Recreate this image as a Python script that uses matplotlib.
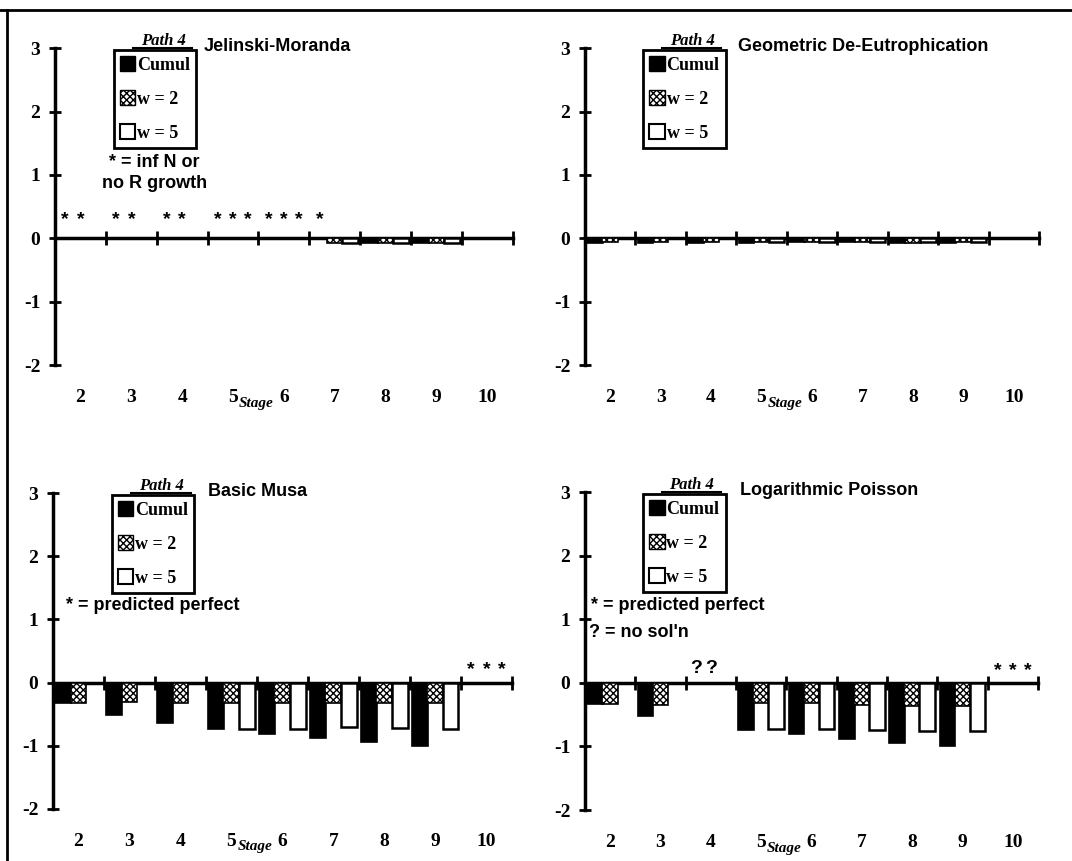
import numpy as np
import matplotlib
matplotlib.use('Agg')
import matplotlib.pyplot as plt
from matplotlib.patches import Patch
from matplotlib.lines import Line2D

nan = np.nan
stages = [2, 3, 4, 5, 6, 7, 8, 9, 10]
series_names = ['Cumul', 'w = 2', 'w = 5']

# Jelinski-Moranda
jm_cumul = [nan, nan, nan, nan, nan, nan, -0.07, -0.07, nan]
jm_w2 = [nan, nan, nan, nan, nan, -0.07, -0.07, -0.07, nan]
jm_w5 = [nan, nan, nan, nan, nan, -0.07, -0.07, -0.07, nan]
jm_star_cumul = [2, 3, 4, 5, 6, 7]
jm_star_w2 = [2, 3, 4, 5, 6]
jm_star_w5 = [5, 6]

# Geometric De-Eutrophication
geo_cumul = [-0.07, -0.07, -0.07, -0.07, -0.06, -0.06, -0.07, -0.07, nan]
geo_w2 = [-0.06, -0.06, -0.06, -0.06, -0.06, -0.06, -0.07, -0.06, nan]
geo_w5 = [nan, nan, nan, -0.06, -0.06, -0.06, -0.06, -0.06, nan]

# Basic Musa
musa_cumul = [-0.32, -0.51, -0.64, -0.73, -0.82, -0.88, -0.94, -1.0, nan]
musa_w2 = [-0.32, -0.31, -0.32, -0.32, -0.32, -0.32, -0.32, -0.33, nan]
musa_w5 = [nan, nan, nan, -0.73, -0.73, -0.70, -0.72, -0.74, nan]
musa_star = [10]

# Logarithmic Poisson
lp_cumul = [-0.33, -0.52, nan, -0.74, -0.81, -0.88, -0.95, -1.0, nan]
lp_w2 = [-0.33, -0.34, nan, -0.32, -0.32, -0.34, -0.36, -0.36, nan]
lp_w5 = [nan, nan, nan, -0.73, -0.73, -0.74, -0.75, -0.75, nan]
lp_star = [10]
lp_nosol = [4]

serif = 'Liberation Serif'
sans = 'Liberation Sans'
offsets = [-0.3, 0.0, 0.3]
bar_w = 0.31


def draw_bars(ax, cumul, w2, w5):
    x = np.array(stages, dtype=float)
    ax.bar(x + offsets[0], cumul, bar_w, color='black', edgecolor='black',
           linewidth=1.2, zorder=2)
    ax.bar(x + offsets[1], w2, bar_w, color='white', edgecolor='black',
           hatch='xxxxx', linewidth=1.2, zorder=2)
    ax.bar(x + offsets[2], w5, bar_w, color='white', edgecolor='black',
           linewidth=1.8, zorder=2)


def marks(ax, xs, slot, y, symbol='*'):
    for s in xs:
        ax.text(s + offsets[slot], y, symbol, ha='center', va='center',
                fontsize=14, fontfamily=sans, fontweight='bold', zorder=4)


def setup(ax, title, title_x):
    ax.set_xlim(1.5, 10.5)
    ax.set_ylim(-2, 3)
    for side in ['top', 'right', 'bottom']:
        ax.spines[side].set_visible(False)
    ax.spines['left'].set_linewidth(2.5)
    ax.set_yticks([-2, -1, 0, 1, 2, 3])
    ax.set_yticklabels(['-2', '-1', '0', '1', '2', '3'], fontfamily=serif,
                       fontweight='bold', fontsize=14)
    ax.tick_params(axis='y', direction='inout', length=9, width=2, pad=6)
    ax.set_xticks(stages)
    ax.set_xticklabels([str(s) for s in stages], fontfamily=serif,
                       fontweight='bold', fontsize=14)
    ax.tick_params(axis='x', length=0, pad=17)
    ax.text(5.12, -0.12, 'Stage', transform=ax.get_xaxis_transform(),
            fontfamily=serif, fontstyle='italic', fontweight='bold',
            fontsize=11, ha='left', va='center')

    # zero line carrying the stage-boundary ticks
    zx = ax.secondary_xaxis(0.4)
    zx.set_xticks(np.arange(1.5, 11.0, 1.0))
    zx.set_xticklabels([])
    zx.tick_params(direction='inout', length=10, width=2)
    zx.spines['bottom'].set_linewidth(2.5)
    zx.spines['bottom'].set_zorder(3)

    handles = [Patch(facecolor='black', edgecolor='black'),
               Patch(facecolor='white', edgecolor='black', hatch='xxxxx'),
               Patch(facecolor='white', edgecolor='black', linewidth=1.5)]
    leg = ax.legend(handles, series_names, loc='upper left',
                    bbox_to_anchor=(0.128, 0.995), frameon=True,
                    fancybox=False, framealpha=1, handlelength=0.85,
                    handleheight=0.9, handletextpad=0.1, labelspacing=0.9,
                    borderpad=0.35, borderaxespad=0,
                    prop={'family': serif, 'weight': 'bold', 'size': 13})
    leg.get_frame().set_edgecolor('black')
    leg.get_frame().set_linewidth(2)
    ax.text(0.236, 1.022, 'Path 4', transform=ax.transAxes, ha='center',
            va='center', fontfamily=serif, fontstyle='italic',
            fontweight='bold', fontsize=12)
    ax.add_line(Line2D([0.17, 0.30], [1.0, 1.0], transform=ax.transAxes,
                       color='black', linewidth=1.5, clip_on=False))
    ax.text(title_x, 1.005, title, transform=ax.transAxes, ha='left',
            va='center', fontfamily=sans, fontweight='bold', fontsize=13)


fig = plt.figure(figsize=(10.72, 8.61), dpi=100)
ax1 = fig.add_axes([0.0513, 0.576, 0.427, 0.368])
ax2 = fig.add_axes([0.5457, 0.576, 0.4235, 0.368])
ax3 = fig.add_axes([0.0494, 0.0604, 0.428, 0.367])
ax4 = fig.add_axes([0.5457, 0.0592, 0.4226, 0.369])

# Jelinski-Moranda
draw_bars(ax1, jm_cumul, jm_w2, jm_w5)
setup(ax1, 'Jelinski-Moranda', 0.325)
marks(ax1, jm_star_cumul, 0, 0.3)
marks(ax1, jm_star_w2, 1, 0.3)
marks(ax1, jm_star_w5, 2, 0.3)
ax1.text(3.45, 1.03, '* = inf N or\nno R growth', ha='center', va='center',
         fontfamily=sans, fontweight='bold', fontsize=13, linespacing=1.25)

# Geometric De-Eutrophication
draw_bars(ax2, geo_cumul, geo_w2, geo_w5)
setup(ax2, 'Geometric De-Eutrophication', 0.337)

# Basic Musa
draw_bars(ax3, musa_cumul, musa_w2, musa_w5)
setup(ax3, 'Basic Musa', 0.338)
for slot in range(3):
    marks(ax3, musa_star, slot, 0.2)
ax3.text(1.75, 1.22, '* = predicted perfect', ha='left', va='center',
         fontfamily=sans, fontweight='bold', fontsize=13)

# Logarithmic Poisson
draw_bars(ax4, lp_cumul, lp_w2, lp_w5)
setup(ax4, 'Logarithmic Poisson', 0.342)
for slot in range(3):
    marks(ax4, lp_star, slot, 0.2)
marks(ax4, lp_nosol, 0, 0.22, '?')
marks(ax4, lp_nosol, 1, 0.22, '?')
ax4.text(1.62, 1.22, '* = predicted perfect', ha='left', va='center',
         fontfamily=sans, fontweight='bold', fontsize=13)
ax4.text(1.58, 0.79, "? = no sol'n", ha='left', va='center',
         fontfamily=sans, fontweight='bold', fontsize=13)

# page frame
fig.add_artist(Line2D([0.0065, 0.0065], [0, 0.988], color='black',
                      linewidth=2, transform=fig.transFigure))
fig.add_artist(Line2D([0, 1], [0.988, 0.988], color='black',
                      linewidth=2, transform=fig.transFigure))

fig.savefig('out.png', dpi=100)
